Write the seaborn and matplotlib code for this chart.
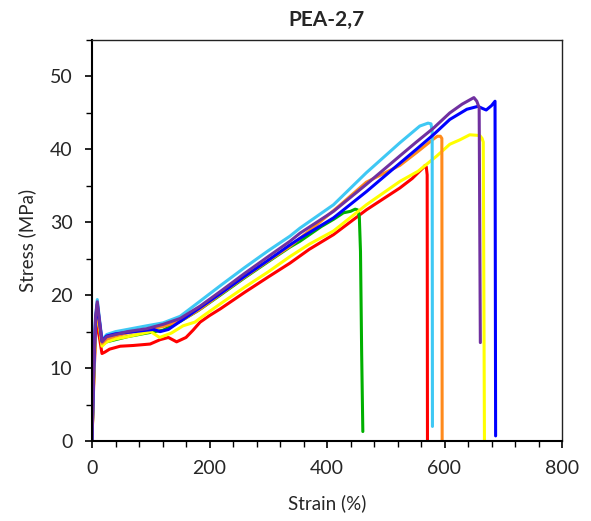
import numpy as np
import pandas as pd
import matplotlib
matplotlib.use("Agg")
import matplotlib.pyplot as plt
from matplotlib.ticker import MultipleLocator
import seaborn as sns

# ---- data (strain %, stress MPa) ----
red_strain = [0, 3, 6, 9, 12, 17, 22, 30, 48, 70, 99, 116, 130, 144, 160, 172, 184, 200, 218, 260, 300, 337, 370, 411, 467, 524, 545, 564, 567, 569, 570.5, 571]
red_stress = [0, 8, 14.5, 16.6, 14.5, 12.0, 12.2, 12.6, 13.0, 13.1, 13.3, 13.9, 14.2, 13.6, 14.2, 15.2, 16.3, 17.2, 18.1, 20.4, 22.5, 24.4, 26.3, 28.3, 31.7, 34.7, 36.0, 37.5, 37.8, 37.6, 36.5, 0]

green_strain = [0, 3, 6, 9, 12, 17, 25, 40, 60, 93, 121, 150, 181, 220, 260, 300, 337, 354, 390, 411, 428, 440, 448, 452, 455, 457, 459, 461]
green_stress = [0, 9, 16, 18.0, 16.0, 13.2, 13.6, 13.9, 14.3, 14.8, 15.2, 16.4, 17.9, 20.1, 22.4, 24.6, 26.6, 27.4, 29.4, 30.4, 31.3, 31.5, 31.8, 31.7, 30.8, 26, 12, 1.3]

yellow_strain = [0, 3, 6, 9, 12, 17, 25, 40, 60, 100, 115, 135, 155, 175, 190, 220, 260, 300, 337, 370, 411, 467, 524, 555, 587, 609, 626, 643, 660, 664, 666, 668]
yellow_stress = [0, 9, 15.5, 17.8, 16.0, 13.0, 13.6, 14.0, 14.3, 15.0, 14.2, 14.8, 15.8, 16.3, 17.2, 18.9, 21.1, 23.2, 25.3, 27.0, 28.8, 32.4, 35.6, 37.0, 39.1, 40.7, 41.3, 42.0, 41.9, 41.5, 41.0, 0]

orange_strain = [0, 3, 6, 9, 12, 17, 25, 40, 60, 93, 121, 140, 160, 184, 220, 260, 300, 337, 380, 420, 467, 524, 553, 581, 588, 593, 595.5, 596]
orange_stress = [0, 9, 15.5, 18.2, 16.3, 13.4, 14.0, 14.4, 14.8, 15.3, 15.7, 16.2, 16.9, 18.1, 20.2, 22.5, 24.7, 26.7, 29.5, 32.2, 35.5, 37.8, 39.6, 41.4, 41.8, 41.8, 41.5, 0]

lightblue_strain = [0, 3, 6, 9, 12, 17, 25, 40, 60, 93, 121, 150, 181, 220, 260, 300, 337, 354, 411, 467, 524, 558, 572, 577, 579, 579.5]
lightblue_stress = [0, 10, 17, 19.4, 17.2, 13.9, 14.6, 15.0, 15.3, 15.8, 16.2, 17.1, 19.0, 21.4, 23.8, 26.1, 28.1, 29.2, 32.4, 36.8, 40.9, 43.2, 43.6, 43.5, 42.5, 2.0]

blue_strain = [0, 3, 6, 9, 12, 17, 25, 40, 60, 93, 105, 116, 130, 150, 184, 220, 260, 300, 337, 354, 411, 467, 524, 552, 581, 609, 638, 657, 665, 671, 680, 686, 687]
blue_stress = [0, 10, 16.5, 18.8, 16.8, 13.7, 14.4, 14.7, 14.9, 15.2, 15.3, 15.0, 15.3, 16.4, 18.3, 20.3, 22.6, 24.8, 26.9, 27.8, 30.6, 34.2, 38.1, 40.0, 42.0, 44.1, 45.5, 45.9, 45.6, 45.4, 46.0, 46.6, 0.7]

purple_strain = [0, 3, 6, 9, 12, 17, 25, 40, 60, 93, 121, 150, 184, 220, 260, 300, 337, 354, 411, 467, 524, 552, 581, 609, 630, 650, 655, 659, 661]
purple_stress = [0, 10, 17, 19.1, 17.0, 13.6, 14.3, 14.6, 15.0, 15.4, 16.0, 16.8, 18.5, 20.6, 23.0, 25.3, 27.4, 28.5, 31.5, 35.2, 39.1, 41.0, 42.9, 45.0, 46.2, 47.1, 46.6, 45.7, 13.5]

series = [
    ("red", red_strain, red_stress),
    ("green", green_strain, green_stress),
    ("yellow", yellow_strain, yellow_stress),
    ("orange", orange_strain, orange_stress),
    ("lightblue", lightblue_strain, lightblue_stress),
    ("blue", blue_strain, blue_stress),
    ("purple", purple_strain, purple_stress),
]
palette = {
    "red": "#FF0000",
    "green": "#00B000",
    "yellow": "#FFFF00",
    "orange": "#FF8A1C",
    "lightblue": "#3FC8F4",
    "blue": "#0000FF",
    "purple": "#7030A0",
}

rows = []
for name, xs, ys in series:
    for i, (x, y) in enumerate(zip(xs, ys)):
        rows.append({"sample": name, "order": i, "strain": x, "stress": y})
df = pd.DataFrame(rows)

sns.set_style("ticks")
plt.rcParams["font.family"] = ["Lato", "DejaVu Sans"]

fig = plt.figure(figsize=(5.91, 5.21), dpi=100)
ax = fig.add_axes([92 / 591, 1 - 441 / 521, (562 - 92) / 591, (441 - 40) / 521])

sns.lineplot(data=df, x="strain", y="stress", hue="sample", hue_order=[s[0] for s in series],
             palette=palette, estimator=None, sort=False, units="sample",
             linewidth=2.2, legend=False, ax=ax)

ax.set_xlim(0, 800)
ax.set_ylim(0, 55)
ax.xaxis.set_major_locator(MultipleLocator(200))
ax.xaxis.set_minor_locator(MultipleLocator(40))
ax.yaxis.set_major_locator(MultipleLocator(10))
ax.yaxis.set_minor_locator(MultipleLocator(5))
ax.tick_params(axis="both", which="major", direction="out", length=5, width=1.2,
               labelsize=14, color="black", pad=9)
ax.tick_params(axis="both", which="minor", direction="out", length=4, width=1.0, color="black")
for side in ["left", "bottom"]:
    ax.spines[side].set_linewidth(1.5)
    ax.spines[side].set_color("black")
for side in ["top", "right"]:
    ax.spines[side].set_linewidth(1.0)
    ax.spines[side].set_color("#222222")

ax.set_xlabel("Strain (%)", fontsize=13.5, labelpad=12)
ax.set_ylabel("Stress (MPa)", fontsize=13.5, labelpad=10)
ax.set_title("PEA-2,7", fontsize=15, fontweight="bold", pad=10)

fig.savefig("out.png", dpi=100)
